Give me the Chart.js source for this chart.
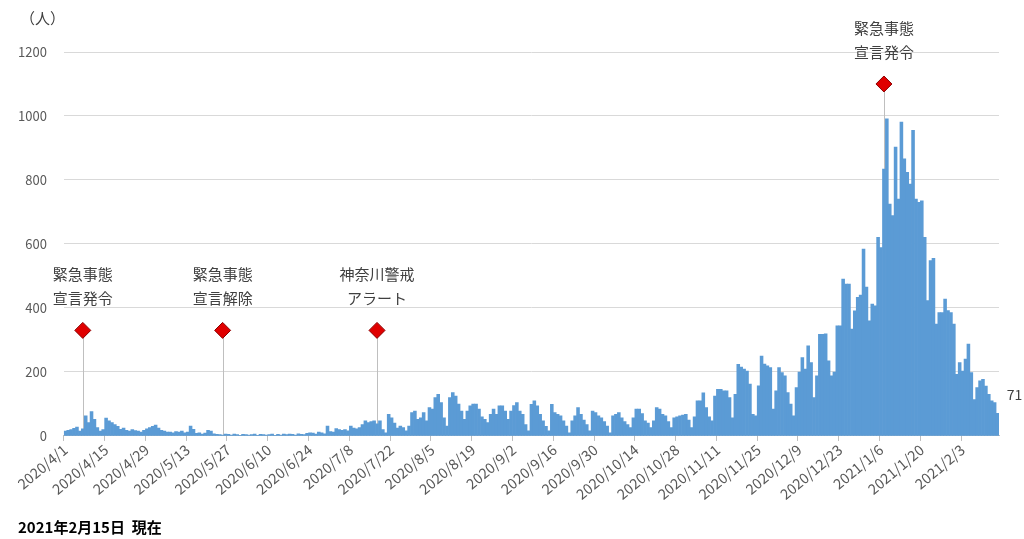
<!DOCTYPE html>
<html>
<head>
<meta charset="utf-8">
<script src="https://cdn.jsdelivr.net/npm/chart.js@4.4.1/dist/chart.umd.min.js"></script>
<style>
  html, body { margin: 0; padding: 0; background: #fff; }
</style>
</head>
<body>
<canvas id="chart" width="1024" height="539"></canvas>
<script>
// Daily new cases from 2020/4/1 to 2021/2/15 (one row = one week)
const dailyCases = [
  15, 18, 20, 24, 28, 15, 22,
  63, 42, 76, 52, 26, 15, 20,
  56, 47, 42, 36, 30, 21, 25,
  18, 15, 20, 17, 15, 12, 18,
  22, 26, 30, 34, 25, 18, 15,
  12, 12, 10, 14, 12, 15, 10,
  12, 31, 21, 8, 10, 6, 9,
  18, 15, 7, 5, 4, 3, 6,
  5, 3, 6, 4, 2, 5, 4,
  3, 4, 6, 2, 5, 4, 3,
  4, 6, 2, 5, 3, 6, 4,
  6, 5, 3, 7, 5, 4, 8,
  10, 9, 6, 12, 10, 7, 31,
  14, 12, 23, 20, 18, 20, 16,
  31, 25, 22, 26, 36, 47, 42,
  45, 47, 38, 47, 20, 10, 68,
  57, 40, 25, 31, 26, 16, 31,
  73, 78, 52, 57, 73, 47, 89,
  84, 120, 130, 104, 57, 31, 120,
  136, 125, 100, 78, 52, 78, 94,
  100, 100, 84, 60, 52, 42, 68,
  84, 68, 94, 94, 78, 52, 78,
  95, 104, 78, 68, 36, 16, 99,
  110, 94, 68, 47, 30, 16, 99,
  73, 68, 63, 47, 31, 10, 47,
  63, 89, 68, 50, 36, 16, 78,
  73, 63, 57, 45, 31, 10, 63,
  68, 73, 57, 45, 36, 26, 57,
  84, 84, 70, 47, 40, 26, 47,
  89, 84, 68, 63, 45, 26, 57,
  60, 63, 65, 68, 50, 26, 60,
  110, 110, 135, 89, 60, 47, 125,
  146, 146, 141, 141, 120, 57, 130,
  224, 215, 209, 203, 162, 68, 63,
  157, 250, 225, 219, 214, 84, 141,
  214, 198, 188, 136, 100, 63, 151,
  200, 245, 209, 282, 229, 120, 188,
  318, 318, 319, 235, 188, 200, 344,
  344, 490, 475, 475, 334, 391, 433,
  440, 584, 465, 360, 412, 407, 621,
  589, 834, 991, 725, 689, 903, 740,
  981, 866, 824, 787, 955, 740, 730,
  735, 621, 423, 548, 555, 350, 386,
  386, 428, 392, 386, 350, 193, 229,
  203, 240, 287, 198, 114, 151, 172,
  177, 156, 130, 110, 104, 71
];

// Dates that get a label under the x axis
const tickLabels = [
  '2020/4/1', '2020/4/15', '2020/4/29', '2020/5/13', '2020/5/27', '2020/6/10',
  '2020/6/24', '2020/7/8', '2020/7/22', '2020/8/5', '2020/8/19', '2020/9/2',
  '2020/9/16', '2020/9/30', '2020/10/14', '2020/10/28', '2020/11/11', '2020/11/25',
  '2020/12/9', '2020/12/23', '2021/1/6', '2021/1/20', '2021/2/3'
];

// Event markers (red diamonds with captions)
const eventDates = ['2020/4/7', '2020/5/25', '2020/7/17', '2021/1/7'];
const eventValues = [330, 330, 330, 1100];
const eventLine1 = ['緊急事態', '緊急事態', '神奈川警戒', '緊急事態'];
const eventLine2 = ['宣言発令', '宣言解除', 'アラート', '宣言発令'];

const yMax = 1200;
const yStep = 200;
const unitLabel = '（人）';
const footNote = '2021年2月15日  現在';

// one category per day, starting 2020/4/1
function buildDates(y, m, d, count) {
  const out = [];
  const date = new Date(y, m - 1, d);
  for (let i = 0; i < count; i++) {
    out.push(date.getFullYear() + '/' + (date.getMonth() + 1) + '/' + date.getDate());
    date.setDate(date.getDate() + 1);
  }
  return out;
}

const categories = buildDates(2020, 4, 1, dailyCases.length);
const markerData = categories.map(c => {
  const k = eventDates.indexOf(c);
  return k >= 0 ? eventValues[k] : null;
});

const FONT = "'Noto Sans CJK JP', 'Noto Sans', sans-serif";
Chart.defaults.font.family = FONT;

// drop lines, captions, unit label, footnote and the last value
const overlay = {
  id: 'overlay',
  beforeDatasetsDraw(chart) {
    const { ctx, scales: { x, y } } = chart;
    ctx.save();
    ctx.strokeStyle = '#bfbfbf';
    ctx.lineWidth = 1;
    eventDates.forEach((d, k) => {
      const px = Math.round(x.getPixelForValue(categories.indexOf(d))) + 0.5;
      ctx.beginPath();
      ctx.moveTo(px, y.getPixelForValue(eventValues[k]));
      ctx.lineTo(px, y.getPixelForValue(0));
      ctx.stroke();
    });
    ctx.restore();
  },
  afterDraw(chart) {
    const { ctx, scales: { x, y } } = chart;
    ctx.save();
    ctx.fillStyle = '#404040';
    ctx.font = '15px ' + FONT;
    ctx.textAlign = 'center';
    ctx.textBaseline = 'middle';
    eventDates.forEach((d, k) => {
      const px = x.getPixelForValue(categories.indexOf(d));
      const py = y.getPixelForValue(eventValues[k]);
      ctx.fillText(eventLine1[k], px, py - 56);
      ctx.fillText(eventLine2[k], px, py - 32);
    });

    // value of the last day
    const last = dailyCases.length - 1;
    ctx.font = '14px ' + FONT;
    ctx.fillText(String(dailyCases[last]), x.getPixelForValue(last) + 17, y.getPixelForValue(dailyCases[last]) - 19);

    // unit
    ctx.textAlign = 'left';
    ctx.font = '15px ' + FONT;
    ctx.fillText(unitLabel, 20, 18);

    // footnote
    ctx.fillStyle = '#000';
    ctx.font = 'bold 15px ' + FONT;
    ctx.fillText(footNote, 18, 527);
    ctx.restore();
  }
};

new Chart(document.getElementById('chart'), {
  data: {
    labels: categories,
    datasets: [
      {
        type: 'line',
        data: markerData,
        showLine: false,
        pointStyle: 'rectRot',
        pointRadius: 8,
        pointBackgroundColor: '#e00000',
        pointBorderColor: '#8b0000',
        pointBorderWidth: 1,
        order: 0
      },
      {
        type: 'bar',
        data: dailyCases,
        backgroundColor: '#5b9bd5',
        borderWidth: 0,
        barPercentage: 1,
        categoryPercentage: 1,
        order: 1
      }
    ]
  },
  options: {
    responsive: false,
    animation: false,
    layout: { padding: { left: 1, right: 25, top: 52, bottom: 36 } },
    plugins: {
      legend: { display: false },
      tooltip: { enabled: false }
    },
    scales: {
      x: {
        type: 'category',
        grid: {
          drawOnChartArea: false,
          tickLength: 5,
          color: ctx => tickLabels.includes(categories[ctx.index]) ? '#bfbfbf' : 'rgba(0,0,0,0)'
        },
        border: { color: '#bfbfbf' },
        ticks: {
          autoSkip: false,
          minRotation: 40,
          maxRotation: 40,
          padding: 0,
          color: '#595959',
          font: { size: 14.5 },
          callback: (v, i) => tickLabels.includes(categories[i]) ? categories[i] : ''
        }
      },
      y: {
        min: 0,
        max: yMax,
        grid: { color: '#d9d9d9', drawTicks: false },
        border: { display: false },
        ticks: {
          stepSize: yStep,
          padding: 17,
          color: '#595959',
          font: { size: 13 },
          callback: v => String(v)
        }
      }
    }
  },
  plugins: [overlay]
});
</script>
</body>
</html>
